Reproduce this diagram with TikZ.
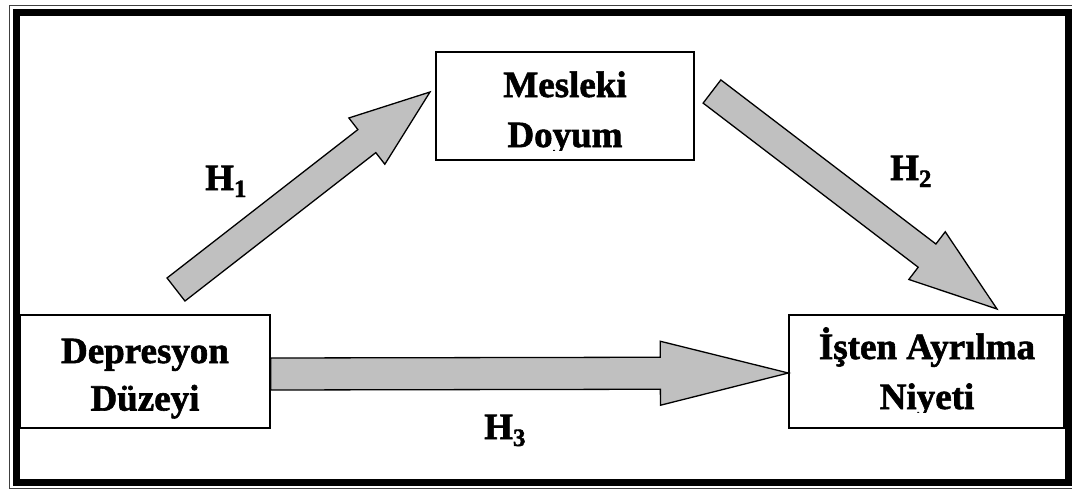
\documentclass[tikz,border=0pt]{standalone}
\usepackage{fontspec}
\setmainfont{Liberation Serif}[BoldFeatures={FakeBold=1.6}]
\usetikzlibrary{calc}
\definecolor{arrowgray}{RGB}{192,192,192}
\tikzset{
  box/.style={draw, line width=1.3pt, inner sep=0pt, fill=white},
  boxtext/.style={anchor=base, inner sep=0pt, font=\fontsize{37}{44}\selectfont\bfseries},
  hyp/.style={anchor=base west, inner sep=0pt, font=\fontsize{37}{44}\selectfont\bfseries},
  arrowbody/.style={draw, line width=1.3pt, fill=arrowgray, line join=miter},
}
% block arrow: #1 tail, #2 tip, #3 shaft half width, #4 head half width, #5 head length
\newcommand\blockarrow[5]{%
  \draw[arrowbody]
    ($(#1)!#3!90:(#2)$) --
    ($(#2)!#5!(#1)!#3!-90:(#1)$) --
    ($(#2)!#5!(#1)!#4!-90:(#1)$) --
    (#2) --
    ($(#2)!#5!(#1)!#4!90:(#1)$) --
    ($(#2)!#5!(#1)!#3!90:(#1)$) --
    ($(#1)!#3!-90:(#2)$) -- cycle;
}
\newcommand\hsub[1]{\raisebox{-7pt}{\fontsize{25}{25}\selectfont #1}}

\begin{document}
\begin{tikzpicture}[x=1pt,y=-1pt]
\useasboundingbox (0,0) rectangle (1072,490);

% double frame
\draw[line width=0.9pt, black!75] (9,5) rectangle (1090,488.5);
\draw[line width=7pt] (16.5,12.5) rectangle (1068.5,482.5);

% boxes
\node[box, minimum width=250pt, minimum height=113pt] (dep) at (145,371.5) {};
\node[box, minimum width=258pt, minimum height=108pt] (mes) at (565,106) {};
\node[box, minimum width=275pt, minimum height=113pt] (isten) at (926.5,371.5) {};

% box texts
\node[boxtext] (dep1) at (145,363) {Depresyon};
\node[boxtext] (dep2) at (145,410.5) {Düzeyi};
\begin{scope}
  \clip (mes.north west) rectangle (694,150);
  \node[boxtext] (mes1) at (565,97) {Mesleki};
  \node[boxtext] (mes2) at (565,147) {Doyum};
\end{scope}
\begin{scope}
  \clip (isten.north west) rectangle (1064,412);
  \node[boxtext] (ist1) at (927,359) {İşten Ayrılma};
  \node[boxtext] (ist2) at (927,409) {Niyeti};
\end{scope}

% arrows
\coordinate (h1s) at (176,289.5);
\coordinate (h1e) at (430,92);
\coordinate (h2s) at (712,91.5);
\coordinate (h2e) at (997,309);
\coordinate (h3s) at ([yshift=-2.5pt]dep.east);
\coordinate (h3e) at ([yshift=-1.5pt]isten.west);
\blockarrow{h1s}{h1e}{14.6pt}{29.3pt}{80pt}
\blockarrow{h2s}{h2e}{14.6pt}{30pt}{88pt}
\blockarrow{h3s}{h3e}{16pt}{32pt}{128pt}

% hypothesis labels
\node[hyp] (lh1) at (205,190) {H\hsub{1}};
\node[hyp] (lh2) at (890,180) {H\hsub{2}};
\node[hyp] (lh3) at (484,439) {H\hsub{3}};
\end{tikzpicture}
\end{document}
